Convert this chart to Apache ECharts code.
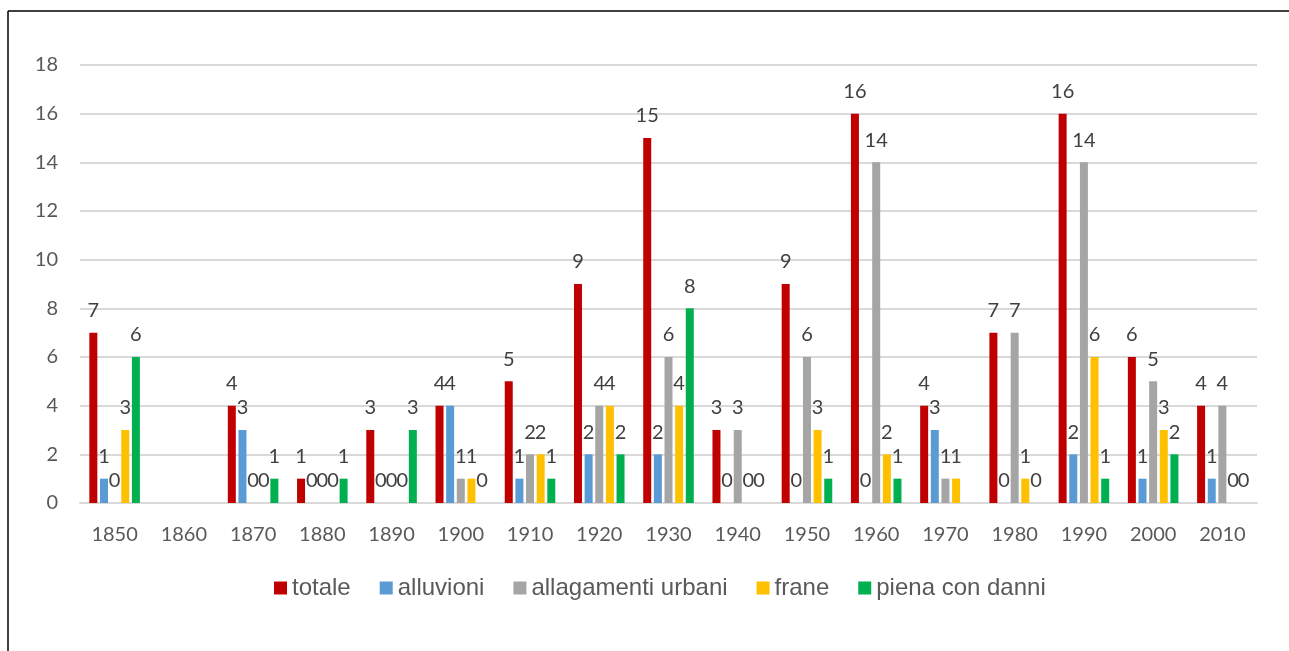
<!DOCTYPE html>
<html>
<head>
<meta charset="utf-8">
<script src="https://cdn.jsdelivr.net/npm/echarts@6/dist/echarts.min.js"></script>
<style>
html,body{margin:0;padding:0;background:#fff;}
#chart{width:1289px;height:651px;}
</style>
</head>
<body>
<div id="chart"></div>
<script>
const categories = ['1850','1860','1870','1880','1890','1900','1910','1920','1930','1940','1950','1960','1970','1980','1990','2000','2010'];
const totale      = [7, null, 4, 1, 3, 4, 5, 9, 15, 3, 9, 16, 4, 7, 16, 6, 4];
const alluvioni   = [1, null, 3, 0, 0, 4, 1, 2, 2, 0, 0, 0, 3, 0, 2, 1, 1];
const allagamenti = [0, null, 0, 0, 0, 1, 2, 4, 6, 3, 6, 14, 1, 7, 14, 5, 4];
const frane       = [3, null, 0, 0, 0, 1, 2, 4, 4, 0, 3, 2, 1, 1, 6, 3, 0];
const piena       = [6, null, 1, 1, 3, 0, 1, 2, 8, 0, 1, 1, null, 0, 1, 2, 0];
const seriesNames = ['totale','alluvioni','allagamenti urbani','frane','piena con danni'];
const colors = ['#C00000','#5B9BD5','#A5A5A5','#FFC000','#00B050'];
const yTicks = [0, 18, 2];

const font = 'Lato, "Open Sans", sans-serif';
const chart = echarts.init(document.getElementById('chart'));
const data = [totale, alluvioni, allagamenti, frane, piena];
chart.setOption({
  animation: false,
  backgroundColor: '#fff',
  color: colors,
  graphic: [
    {type:'line', shape:{x1:8, y1:11, x2:1289, y2:11}, style:{stroke:'#000', lineWidth:1.5}},
    {type:'line', shape:{x1:8, y1:11, x2:8, y2:651}, style:{stroke:'#000', lineWidth:1.5}}
  ],
  grid: {left: 80, right: 32, top: 65, bottom: 148},
  legend: {
    data: seriesNames,
    top: 571,
    left: 269,
    itemWidth: 13,
    itemHeight: 13,
    itemGap: 29,
    icon: 'rect',
    textStyle: {color:'#595959', fontSize: 24, fontFamily: '"Liberation Sans", Arial, sans-serif'}
  },
  xAxis: {
    type: 'category',
    data: categories,
    axisLine: {lineStyle:{color:'#D9D9D9', width:2}},
    axisTick: {show:false},
    axisLabel: {color:'#595959', fontSize:20, fontFamily: font, margin: 22}
  },
  yAxis: {
    type: 'value',
    min: yTicks[0], max: yTicks[1], interval: yTicks[2],
    axisLine: {show:false},
    axisTick: {show:false},
    splitLine: {lineStyle:{color:'#D9D9D9', width:2}},
    axisLabel: {color:'#595959', fontSize:20, fontFamily: font, margin: 22}
  },
  series: data.map((d, i) => ({
    name: seriesNames[i],
    type: 'bar',
    data: d,
    barWidth: 8,
    barGap: '33%',
    label: {
      show: true,
      position: 'top',
      distance: 12,
      color: '#404040',
      fontSize: 20,
      fontFamily: font
    }
  }))
});
</script>
</body>
</html>
